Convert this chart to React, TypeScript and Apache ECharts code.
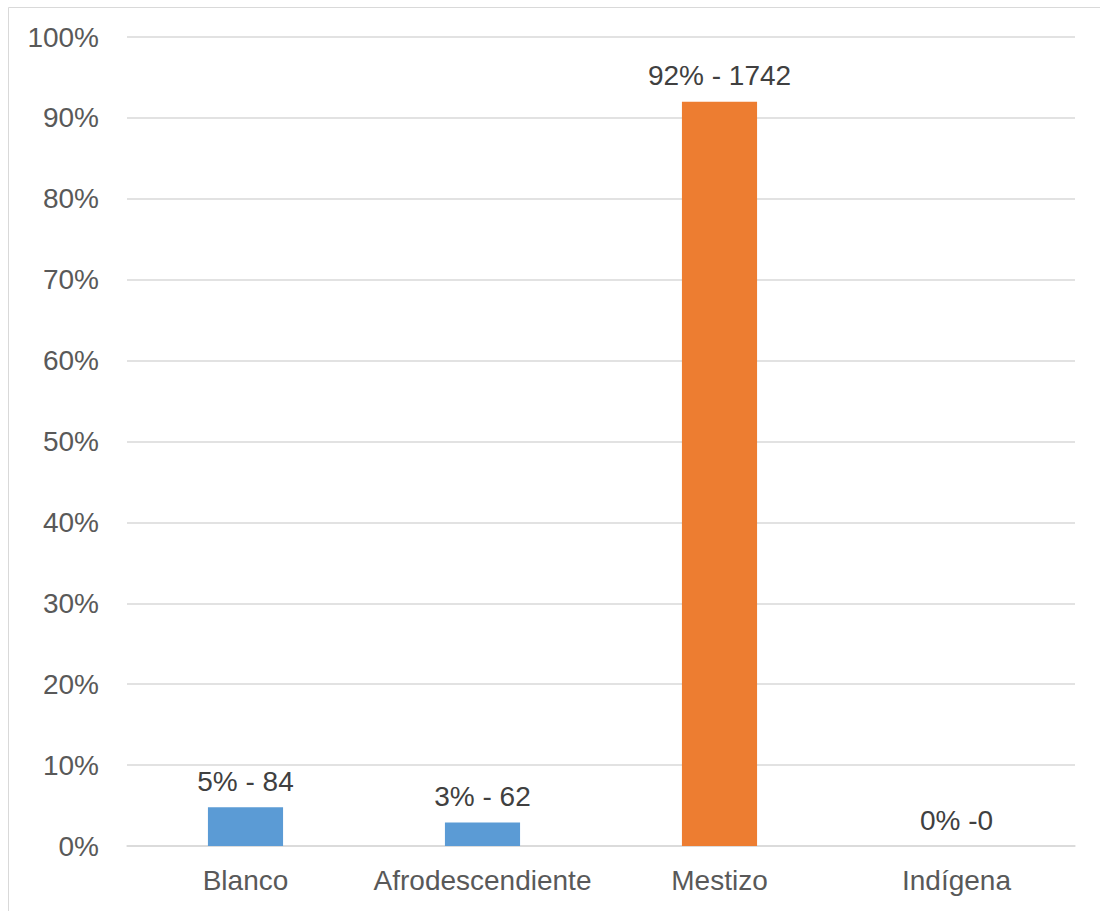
import React, { useEffect, useRef } from "react";
import * as echarts from "echarts";

const categories = ["Blanco", "Afrodescendiente", "Mestizo", "Indígena"];
const values = [4.8, 2.9, 92.0, 0];
const dataLabels = ["5% - 84", "3% - 62", "92% - 1742", "0% -0"];
const barColors = ["#5B9BD5", "#5B9BD5", "#ED7D31", "#5B9BD5"];

export default function App() {
  const ref = useRef<HTMLDivElement>(null);
  useEffect(() => {
    if (!ref.current) return;
    const chart = echarts.init(ref.current, null, { renderer: "svg" });
    const font = "'Liberation Sans', Arial, sans-serif";
    chart.setOption({
      animation: false,
      backgroundColor: "#ffffff",
      graphic: [
        {
          type: "rect",
          shape: { x: 8.5, y: 7.5, width: 1100, height: 920 },
          style: { fill: "none", stroke: "#D9D9D9", lineWidth: 1 },
          silent: true,
        },
      ],
      grid: { left: 127, right: 25, top: 37, bottom: 65, containLabel: false },
      xAxis: {
        type: "category",
        data: categories,
        axisLine: { show: true, lineStyle: { color: "#D9D9D9", width: 1.5 } },
        axisTick: { show: false },
        axisLabel: { color: "#595959", fontSize: 28, fontFamily: font, margin: 20, interval: 0 },
      },
      yAxis: {
        type: "value",
        min: 0,
        max: 100,
        interval: 10,
        axisLine: { show: false },
        axisTick: { show: false },
        splitLine: { lineStyle: { color: "#D9D9D9", width: 1.5 } },
        axisLabel: {
          color: "#595959",
          fontSize: 28,
          fontFamily: font,
          margin: 28,
          formatter: (v: number) => v + "%",
        },
      },
      series: [
        {
          type: "bar",
          barWidth: "31.7%",
          data: values.map((v, i) => ({
            value: v,
            itemStyle: { color: barColors[i] },
            label: { formatter: dataLabels[i] },
          })),
          label: {
            show: true,
            position: "top",
            distance: 12,
            color: "#404040",
            fontSize: 28,
            fontFamily: font,
          },
        },
      ],
    });
    return () => chart.dispose();
  }, []);
  return (
    <div
      ref={ref}
      style={{ position: "fixed", left: 0, top: 0, width: 1100, height: 911 }}
    />
  );
}
